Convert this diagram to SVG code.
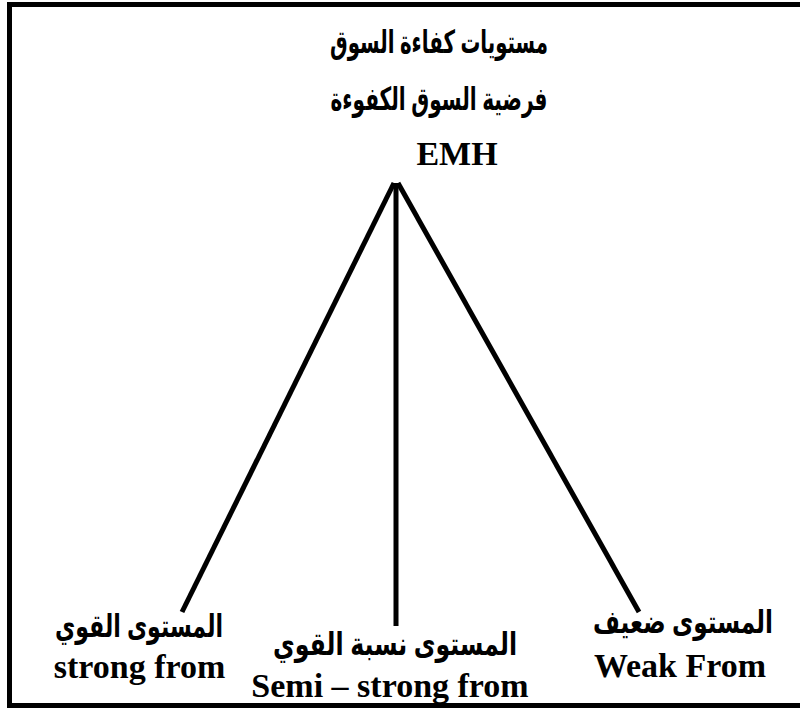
<svg xmlns="http://www.w3.org/2000/svg" width="800" height="708" viewBox="0 0 800 708">
<style>
.ar{font-family:"Liberation Sans","DejaVu Sans",sans-serif;font-weight:bold;font-size:32px;fill:#000;text-anchor:middle}
.en{font-family:"Liberation Serif","DejaVu Serif",serif;font-weight:bold;font-size:34px;fill:#000;text-anchor:middle}
.ln{stroke:#000;stroke-width:5;fill:none}
</style>
<rect x="9.5" y="4.5" width="800" height="701" fill="#fff" stroke="#000" stroke-width="5"/>
<g id="root">
<text class="ar" x="439" y="53" direction="rtl" textLength="218" lengthAdjust="spacingAndGlyphs">مستويات كفاءة السوق</text>
<text class="ar" x="439" y="110" direction="rtl" textLength="217" lengthAdjust="spacingAndGlyphs">فرضية السوق الكفوءة</text>
<text class="en" x="457" y="165" font-size="36">EMH</text>
</g>
<g id="connectors">
<line class="ln" x1="394" y1="183" x2="182" y2="612"/>
<line class="ln" x1="396" y1="183" x2="396" y2="626"/>
<line class="ln" x1="398" y1="183" x2="639" y2="612"/>
</g>
<g id="strong">
<text class="ar" x="139" y="637" direction="rtl" textLength="168" lengthAdjust="spacingAndGlyphs">المستوى القوي</text>
<text class="en" x="139.5" y="678">strong from</text>
</g>
<g id="semi">
<text class="ar" x="395" y="655" direction="rtl" textLength="244" lengthAdjust="spacingAndGlyphs">المستوى نسبة القوي</text>
<text class="en" x="390" y="697" font-size="35.5">Semi – strong from</text>
</g>
<g id="weak">
<text class="ar" x="683" y="633" direction="rtl" textLength="180" lengthAdjust="spacingAndGlyphs">المستوى ضعيف</text>
<text class="en" x="680" y="677">Weak From</text>
</g>
</svg>
